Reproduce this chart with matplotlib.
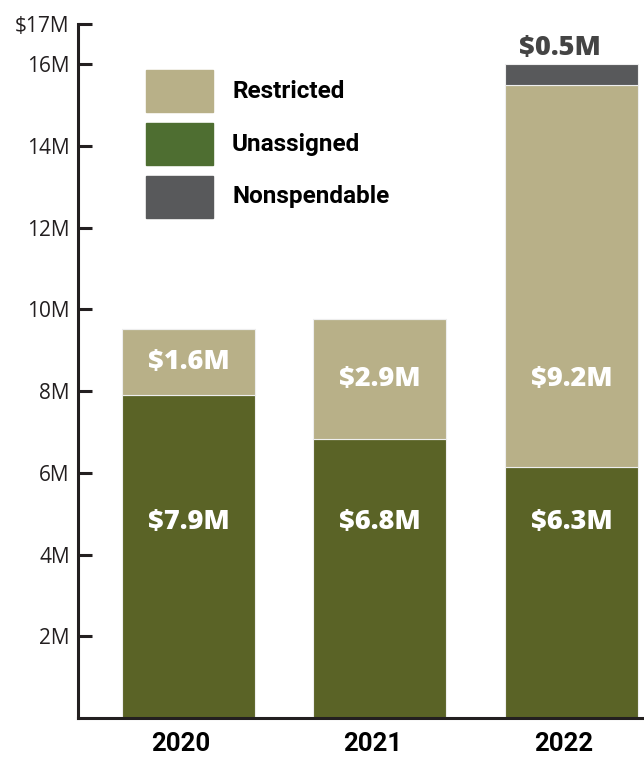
import matplotlib
matplotlib.use("Agg")
import matplotlib.pyplot as plt
import numpy as np
from matplotlib.patches import Rectangle

years = ["2020", "2021", "2022"]
unassigned = [7.9, 6.82, 6.15]
restricted = [1.62, 2.94, 9.35]
nonspendable = [0.0, 0.0, 0.5]
unassigned_lbl = ["$7.9M", "$6.8M", "$6.3M"]
restricted_lbl = ["$1.6M", "$2.9M", "$9.2M"]
nonspend_lbl = ["", "", "$0.5M"]
yticks = [2, 4, 6, 8, 10, 12, 14, 16, 17]
ytick_lbl = ["2M", "4M", "6M", "8M", "10M", "12M", "14M", "16M", "$17M"]
legend_names = ["Restricted", "Unassigned", "Nonspendable"]

c_res = "#b8b088"
c_una = "#5a6326"
c_una_leg = "#4e6e31"
c_non = "#58595b"
axis_col = "#231f20"

plt.rcParams['font.family'] = ['Open Sans', 'DejaVu Sans']
narrow = ['Roboto', 'Open Sans', 'DejaVu Sans']

fig = plt.figure(figsize=(6.44, 7.58), dpi=100)
ax = fig.add_axes([78 / 644, 40 / 758, 1 - 78 / 644, (718 - 23.5) / 758])

x = np.arange(len(years))
w = 0.695
una = np.array(unassigned)
res = np.array(restricted)
non = np.array(nonspendable)
ax.bar(x, una, w, color=c_una, edgecolor="#eeeeee", linewidth=0.8, zorder=2)
ax.bar(x, res, w, bottom=una, color=c_res, edgecolor="#eeeeee", linewidth=0.8, zorder=2)
ax.bar(x, non, w, bottom=una + res, color=c_non, edgecolor="#eeeeee", linewidth=0.8, zorder=2)

for i in range(len(years)):
    ax.text(x[i], 4.8, unassigned_lbl[i], ha="center", va="center", color="white",
            fontsize=19.5, fontweight=800, zorder=3)
    # tall segments get their label kept low, like the original
    ym = una[i] + res[i] / 2 if res[i] < 5 else 8.3
    ax.text(x[i], ym, restricted_lbl[i], ha="center", va="center", color="white",
            fontsize=19.5, fontweight=800, zorder=3)
    if nonspend_lbl[i]:
        ax.text(x[i] - 0.06, una[i] + res[i] + non[i] + 0.08, nonspend_lbl[i], ha="center",
                va="bottom", color="#444444", fontsize=19.5, fontweight=800, zorder=3)

ax.set_xlim(-0.577, 2.379)
ax.set_ylim(0, 17)
ax.set_yticks(yticks)
ax.set_yticklabels(ytick_lbl, fontsize=15, color="#231f20")
ax.set_xticks(x - 0.04)
ax.set_xticklabels(years, family=narrow, fontsize=18.5, fontweight="bold", color="black")
ax.tick_params(axis="y", direction="in", length=10, width=2.2, color=axis_col, pad=6)
ax.tick_params(axis="x", length=0, pad=10)
for s in ["top", "right"]:
    ax.spines[s].set_visible(False)
ax.spines["left"].set_color(axis_col)
ax.spines["left"].set_linewidth(2.2)
ax.spines["bottom"].set_color(axis_col)
ax.spines["bottom"].set_linewidth(2.2)

# legend drawn by hand in pixel space
leg_cols = [c_res, c_una_leg, c_non]
for k, name in enumerate(legend_names):
    y0 = 758 - (112 + 53 * k)
    fig.patches.append(Rectangle((146 / 644, y0 / 758), 67 / 644, 42 / 758,
                                 transform=fig.transFigure, color=leg_cols[k]))
    fig.text(232 / 644, (y0 + 21) / 758, name, family=narrow, fontsize=17.5,
             fontweight="bold", va="center", ha="left", color="black")

fig.savefig("out.png", dpi=100)
